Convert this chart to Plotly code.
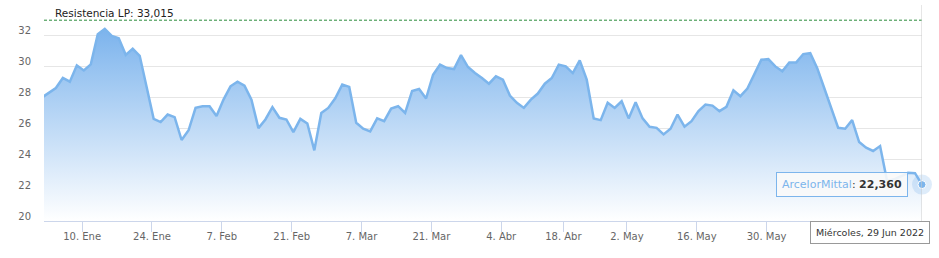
import numpy as np
import pandas as pd
import plotly.graph_objects as go

# ---------------- data ----------------
series_name = "ArcelorMittal"
holidays = ["2022-04-15", "2022-04-18"]
dates = [d for d in pd.bdate_range("2021-12-31", "2022-06-29") if d.strftime("%Y-%m-%d") not in holidays]

values = [
    28.00, 28.30, 28.62, 29.27, 29.03, 30.09, 29.76, 30.15, 32.11, 32.45,
    32.00, 31.85, 30.77, 31.16, 30.71, 28.67, 26.62, 26.41, 26.90, 26.73,
    25.25, 25.88, 27.33, 27.44, 27.44, 26.80, 27.87, 28.73, 29.03, 28.77,
    27.87, 26.02, 26.58, 27.38, 26.69, 26.58, 25.76, 26.62, 26.32, 24.58,
    27.00, 27.33, 27.95, 28.84, 28.69, 26.37, 25.98, 25.81, 26.65, 26.47,
    27.29, 27.44, 27.01, 28.43, 28.56, 27.94, 29.48, 30.13, 29.91, 29.85,
    30.75, 29.98, 29.59, 29.27, 28.90, 29.38, 29.16, 28.13, 27.66, 27.33,
    27.87, 28.26, 28.90, 29.27, 30.13, 30.02, 29.59, 30.41, 29.16, 26.65,
    26.54, 27.66, 27.33, 27.76, 26.65, 27.70, 26.65, 26.11, 26.04, 25.61,
    25.98, 26.90, 26.11, 26.47, 27.12, 27.55, 27.48, 27.12, 27.40, 28.47,
    28.09, 28.58, 29.48, 30.45, 30.49, 30.02, 29.70, 30.28, 30.28, 30.82,
    30.88, 29.91, 28.62, 27.33, 26.04, 25.98, 26.54, 25.12, 24.75, 24.54,
    24.86, 22.60, 22.70, 22.90, 23.12, 23.10, 22.36,
]
assert len(values) == len(dates)

tick_dates = ["2022-01-10", "2022-01-24", "2022-02-07", "2022-02-21", "2022-03-07",
              "2022-03-21", "2022-04-04", "2022-04-18", "2022-05-02", "2022-05-16", "2022-05-30"]
tick_labels = ["10. Ene", "24. Ene", "7. Feb", "21. Feb", "7. Mar",
               "21. Mar", "4. Abr", "18. Abr", "2. May", "16. May", "30. May"]
y_ticks = [20, 22, 24, 26, 28, 30, 32, 34]
y_labels = ["20", "22", "24", "26", "28", "30", "32", ""]
resistance = 33.015
resistance_label = "Resistencia LP: 33,015"
last_date_label = "Miércoles, 29 Jun 2022"

# ---------------- ordinal positions ----------------
idx = np.arange(len(dates))
close_ts = np.array([(d + pd.Timedelta(hours=17, minutes=30)).value for d in dates], dtype=float)
tick_pos = np.interp([pd.Timestamp(t).value for t in tick_dates], close_ts, idx)

FONT = "DejaVu Sans"
BLUE = "#7cb5ec"

fig = go.Figure()
fig.add_trace(go.Scatter(
    x=idx, y=values, mode="lines",
    line=dict(color=BLUE, width=2.5),
    fill="tozeroy",
    fillgradient=dict(type="vertical", start=20, stop=33,
                      colorscale=[[0, "rgba(255,255,255,1)"], [1, "rgba(118,176,236,1)"]]),
    hoverinfo="skip", showlegend=False,
))
fig.add_trace(go.Scatter(
    x=[idx[-1]], y=[values[-1]], mode="markers",
    marker=dict(size=20, color="rgba(124,181,236,0.25)"),
    cliponaxis=False, hoverinfo="skip", showlegend=False,
))
fig.add_trace(go.Scatter(
    x=[idx[-1]], y=[values[-1]], mode="markers",
    marker=dict(size=8, color=BLUE, line=dict(color="white", width=1)),
    cliponaxis=False, hoverinfo="skip", showlegend=False,
))

fig.add_shape(type="line", xref="paper", x0=0, x1=1, yref="y", y0=resistance, y1=resistance,
              line=dict(color="#2a8c3c", width=1, dash="3px,2px"))
fig.add_shape(type="line", xref="x", x0=idx[-1], x1=idx[-1], yref="paper", y0=0, y1=1,
              line=dict(color="#cccccc", width=1))

fig.add_annotation(xref="paper", x=0, xshift=9, yref="y", y=resistance, yshift=7,
                   xanchor="left", yanchor="middle", showarrow=False,
                   text=resistance_label, font=dict(family=FONT, size=10.5, color="#222"))

value_txt = f"{values[-1]:.3f}".replace(".", ",")
fig.add_annotation(x=idx[-1], y=values[-1], xanchor="right", yanchor="middle", xshift=-14,
                   showarrow=False,
                   text=f"<span style='color:{BLUE}'>{series_name}</span>: <b>{value_txt}</b>",
                   font=dict(family=FONT, size=11, color="#333"),
                   bgcolor="rgba(250,250,250,0.9)", bordercolor=BLUE, borderwidth=1, borderpad=5)
fig.add_annotation(x=idx[-1], yref="paper", y=0, xanchor="right", yanchor="top", xshift=8, yshift=0,
                   showarrow=False, text=last_date_label,
                   font=dict(family=FONT, size=9.5, color="#333"),
                   bgcolor="white", bordercolor="#999", borderwidth=1, borderpad=5)

fig.update_layout(
    width=939, height=258,
    margin=dict(l=44, r=17, t=5, b=37),
    paper_bgcolor="white", plot_bgcolor="white",
    font=dict(family=FONT, size=10, color="#666"),
    xaxis=dict(range=[0.3, idx[-1]], tickmode="array", tickvals=tick_pos, ticktext=tick_labels,
               ticks="outside", ticklen=10, tickcolor="#ccd6eb", showline=True, linecolor="#ccd6eb",
               showgrid=False, zeroline=False, ticklabelstandoff=-4,
               tickfont=dict(family=FONT, size=10, color="#666")),
    yaxis=dict(range=[20, 34], tickmode="array", tickvals=y_ticks, ticktext=y_labels,
               showgrid=True, gridcolor="#e6e6e6", zeroline=False, showline=False, ticks="",
               ticklabelshift=-5, ticklabelstandoff=12,
               tickfont=dict(family=FONT, size=10, color="#666")),
    showlegend=False,
)

fig.write_html("out.html")
